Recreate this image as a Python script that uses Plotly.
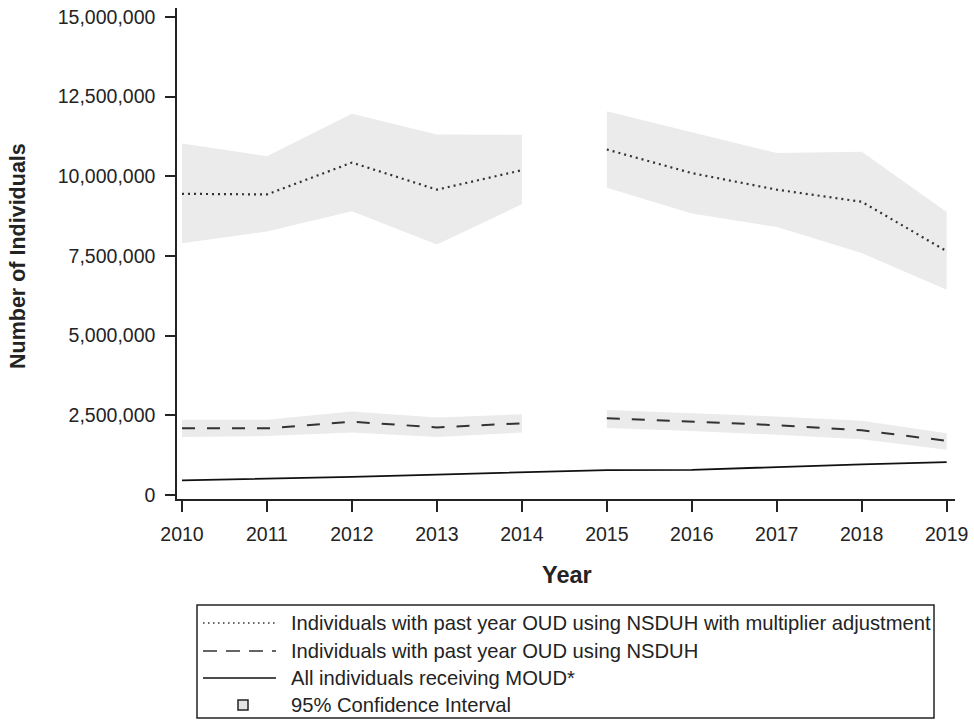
import plotly.graph_objects as go

# Survey years
years = [2010, 2011, 2012, 2013, 2014, 2015, 2016, 2017, 2018, 2019]

# Past-year OUD estimated from NSDUH with multiplier adjustment (2014/2015 break in series)
oud_mult = [9.45e6, 9.43e6, 10.43e6, 9.58e6, 10.19e6, 10.84e6, 10.10e6, 9.58e6, 9.20e6, 7.65e6]
oud_mult_hi = [11.03e6, 10.63e6, 11.96e6, 11.31e6, 11.30e6, 12.04e6, 11.39e6, 10.73e6, 10.77e6, 8.88e6]
oud_mult_lo = [7.90e6, 8.27e6, 8.90e6, 7.86e6, 9.12e6, 9.64e6, 8.83e6, 8.41e6, 7.59e6, 6.44e6]

# Past-year OUD estimated from NSDUH
oud_nsduh = [2.09e6, 2.09e6, 2.30e6, 2.12e6, 2.25e6, 2.41e6, 2.30e6, 2.19e6, 2.03e6, 1.70e6]
oud_nsduh_hi = [2.36e6, 2.36e6, 2.62e6, 2.43e6, 2.53e6, 2.67e6, 2.57e6, 2.46e6, 2.33e6, 1.94e6]
oud_nsduh_lo = [1.82e6, 1.85e6, 1.96e6, 1.82e6, 1.96e6, 2.10e6, 2.01e6, 1.89e6, 1.75e6, 1.42e6]

# Individuals receiving MOUD
moud = [0.46e6, 0.51e6, 0.57e6, 0.64e6, 0.71e6, 0.78e6, 0.79e6, 0.88e6, 0.96e6, 1.03e6]

y_ticks = [0, 2.5e6, 5e6, 7.5e6, 10e6, 12.5e6, 15e6]
break_after = 2014  # survey redesign: series not connected across 2014-2015

legend_labels = [
    "Individuals with past year OUD using NSDUH with multiplier adjustment",
    "Individuals with past year OUD using NSDUH",
    "All individuals receiving MOUD*",
    "95% Confidence Interval",
]

FONT = "Liberation Sans, Arial, Helvetica, sans-serif"
INK = "#232323"
LINE = "#333333"
BAND = "#ebebeb"

W, H = 974, 721
ML, MR, MT, MB = 177, 19, 8, 222
PW, PH = W - ML - MR, H - MT - MB


def px_x(x):
    """Pixel column -> paper x."""
    return (x - ML) / PW


def px_y(y):
    """Pixel row -> paper y."""
    return (H - MB - y) / PH


def split(xs, ys):
    """Insert a gap between the two survey periods."""
    ox, oy = [], []
    for x, y in zip(xs, ys):
        ox.append(x)
        oy.append(y)
        if x == break_after:
            ox.append(None)
            oy.append(None)
    return ox, oy


def band(xs, lo, hi):
    """Closed polygon for each survey period, separated by a gap."""
    px, py = [], []
    segs = [[i for i, x in enumerate(xs) if x <= break_after],
            [i for i, x in enumerate(xs) if x > break_after]]
    for k, idx in enumerate(segs):
        if k:
            px.append(None)
            py.append(None)
        px += [xs[i] for i in idx] + [xs[i] for i in reversed(idx)]
        py += [hi[i] for i in idx] + [lo[i] for i in reversed(idx)]
    return px, py


fig = go.Figure()

for lo, hi in [(oud_mult_lo, oud_mult_hi), (oud_nsduh_lo, oud_nsduh_hi)]:
    bx, by = band(years, lo, hi)
    fig.add_trace(go.Scatter(x=bx, y=by, mode="lines", fill="toself",
                             fillcolor=BAND, line=dict(width=0),
                             showlegend=False, hoverinfo="skip"))

DOT = "2px,4px"
DASH = "13px,12px"

mx, my = split(years, oud_mult)
fig.add_trace(go.Scatter(x=mx, y=my, mode="lines", connectgaps=False,
                         line=dict(color=LINE, width=2.2, dash=DOT),
                         name=legend_labels[0], showlegend=False))

nx, ny = split(years, oud_nsduh)
fig.add_trace(go.Scatter(x=nx, y=ny, mode="lines", connectgaps=False,
                         line=dict(color=LINE, width=2, dash=DASH),
                         name=legend_labels[1], showlegend=False))

fig.add_trace(go.Scatter(x=years, y=moud, mode="lines",
                         line=dict(color="#111111", width=1.8),
                         name=legend_labels[2], showlegend=False))

# Legend box below the plot
shapes = [dict(type="rect", xref="paper", yref="paper",
               x0=px_x(197), x1=px_x(934), y0=px_y(605), y1=px_y(718),
               line=dict(color=INK, width=1.5), fillcolor="white", layer="above")]
row_y = [623, 651, 678, 705]
samples = [dict(color=LINE, width=1.6, dash="1.5px,3.5px"),
           dict(color=LINE, width=1.6, dash="14px,9px"),
           dict(color="#111111", width=1.6)]
for ry, ln in zip(row_y[:3], samples):
    shapes.append(dict(type="line", xref="paper", yref="paper",
                       x0=px_x(203), x1=px_x(276), y0=px_y(ry), y1=px_y(ry),
                       line=ln, layer="above"))
shapes.append(dict(type="rect", xref="paper", yref="paper",
                   x0=px_x(238), x1=px_x(248), y0=px_y(700), y1=px_y(710),
                   line=dict(color=INK, width=1.5), fillcolor="#e4e4e4", layer="above"))

annotations = [dict(text=lab, xref="paper", yref="paper", x=px_x(289), y=px_y(ry),
                    xanchor="left", yanchor="middle", showarrow=False,
                    font=dict(size=20.2, color=INK))
               for lab, ry in zip(legend_labels, row_y)]

# Axis titles
annotations.append(dict(text="<b>Number of Individuals</b>", xref="paper", yref="paper",
                        x=px_x(18), y=px_y(256), textangle=-90, showarrow=False,
                        xanchor="center", yanchor="middle",
                        font=dict(size=21.5, color=INK)))
annotations.append(dict(text="<b>Year</b>", xref="paper", yref="paper",
                        x=px_x(567), y=px_y(575), showarrow=False,
                        xanchor="center", yanchor="middle",
                        font=dict(size=23.5, color=INK)))

fig.update_layout(
    width=W, height=H,
    margin=dict(l=ML, r=MR, t=MT, b=MB, autoexpand=False),
    paper_bgcolor="white", plot_bgcolor="white",
    font=dict(family=FONT, size=19.5, color=INK),
    showlegend=False,
    shapes=shapes,
    annotations=annotations,
)

fig.update_xaxes(
    range=[2009.941, 2019.098], tickvals=years, ticktext=[str(y) for y in years],
    showline=True, linecolor=INK, linewidth=1.5, mirror=False,
    ticks="outside", ticklen=11, tickwidth=1.5, tickcolor=INK,
    showgrid=False, zeroline=False, ticklabelstandoff=6,
)

fig.update_yaxes(
    range=[-0.126e6, 15.28e6], tickvals=y_ticks, tickformat=",d",
    showline=True, linecolor=INK, linewidth=1.5, mirror=False,
    ticks="outside", ticklen=10, tickwidth=1.5, tickcolor=INK,
    showgrid=False, zeroline=False, ticklabelstandoff=6,
)

fig.write_html("out.html")
